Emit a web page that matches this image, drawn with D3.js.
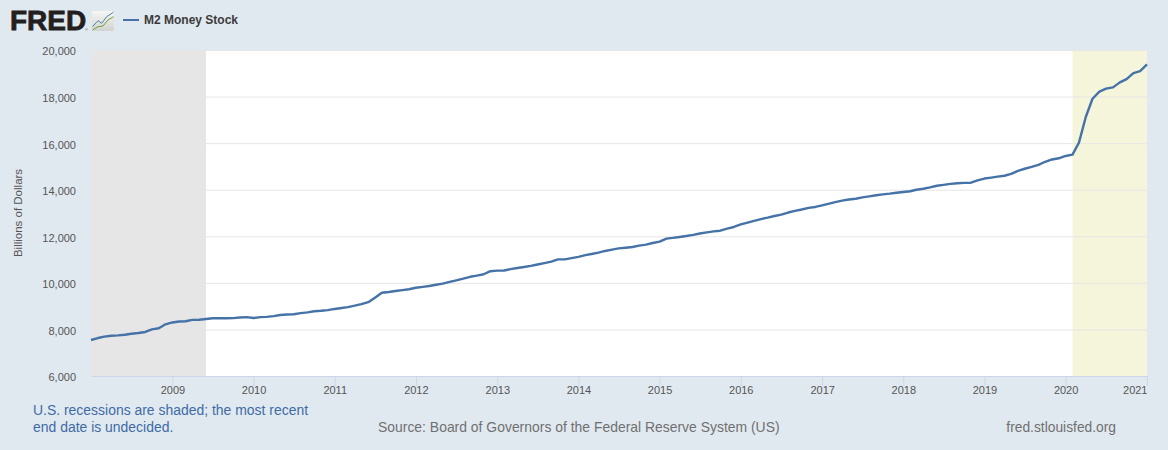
<!DOCTYPE html>
<html>
<head>
<meta charset="utf-8">
<title>M2 Money Stock</title>
<script src="https://cdn.jsdelivr.net/npm/d3@7"></script>
<style>
    body { margin: 0; background: #e1e9f0; overflow: hidden; }
    text { font-family: "Liberation Sans", Arial, sans-serif; }
</style>
</head>
<body>
<div id="chart"></div>
<script>
// 1. DATA - monthly M2, billions of dollars
const startYear = 2008;
const m2Values = [
    7546, 7630, 7690, 7730, 7745, 7773, 7816, 7846, 7890, 8000, 8050, 8220,
    8300, 8340, 8350, 8410, 8415, 8450, 8480, 8480, 8480, 8485, 8510, 8530,
    8490, 8530, 8540, 8570, 8620, 8640, 8650, 8700, 8730, 8780, 8800, 8830,
    8880, 8920, 8960, 9020, 9090, 9170, 9360, 9577, 9610, 9650, 9690, 9725,
    9790, 9830, 9865, 9920, 9965, 10040, 10110, 10180, 10260, 10310, 10370, 10500,
    10525, 10530, 10590, 10640, 10680, 10730, 10790, 10850, 10910, 11010, 11010, 11060,
    11115, 11190, 11240, 11300, 11370, 11430, 11480, 11510, 11540, 11600, 11640, 11710,
    11770, 11900, 11930, 11970, 12010, 12060, 12120, 12170, 12210, 12240, 12330, 12400,
    12510, 12590, 12660, 12740, 12800, 12870, 12930, 13020, 13090, 13150, 13220, 13260,
    13330, 13400, 13470, 13530, 13580, 13610, 13670, 13715, 13760, 13800, 13830, 13870,
    13900, 13935, 14000, 14040, 14100, 14170, 14210, 14250, 14280, 14295, 14300, 14400,
    14480, 14520, 14560, 14600, 14680, 14810, 14900, 14980, 15070, 15200, 15300, 15350,
    15450, 15505, 16020, 17135, 17905, 18210, 18340, 18395, 18610, 18750, 19010, 19095,
    19385
];
const yTicks = [6000, 8000, 10000, 12000, 14000, 16000, 18000, 20000];
const xTickYears = [2009, 2010, 2011, 2012, 2013, 2014, 2015, 2016, 2017, 2018, 2019, 2020, 2021];
const recessions = [
    { start: new Date(2008, 0, 1), end: new Date(2009, 5, 1), fill: "#e6e6e6" },
    { start: new Date(2020, 1, 1), end: new Date(2021, 0, 1), fill: "#f5f5dc" }
];

const data = m2Values.map(function(v, i) {
    return { date: new Date(startYear, i, 1), value: v };
});

// 2. SETUP
const width = 1168;
const height = 450;
const plot = { left: 91, right: 1147, top: 50, bottom: 376 };

const svg = d3.select("#chart")
    .append("svg")
    .attr("width", width)
    .attr("height", height)
    .style("display", "block");

const x = d3.scaleTime()
    .domain([data[0].date, data[data.length - 1].date])
    .range([plot.left, plot.right]);

const y = d3.scaleLinear()
    .domain([6000, 20000])
    .range([plot.bottom, plot.top]);

// 3. PLOT BACKGROUND AND RECESSION BANDS
svg.append("rect")
    .attr("x", plot.left)
    .attr("y", plot.top)
    .attr("width", plot.right - plot.left)
    .attr("height", plot.bottom - plot.top)
    .attr("fill", "#ffffff");

svg.selectAll(".recession")
    .data(recessions)
    .join("rect")
    .attr("class", "recession")
    .attr("x", function(d) { return x(d.start); })
    .attr("y", plot.top)
    .attr("width", function(d) { return x(d.end) - x(d.start); })
    .attr("height", plot.bottom - plot.top)
    .attr("fill", function(d) { return d.fill; });

// 4. AXES
const yAxis = svg.append("g")
    .attr("transform", "translate(" + plot.left + ",0)")
    .call(d3.axisLeft(y).tickValues(yTicks).tickFormat(d3.format(",")).tickSize(-(plot.right - plot.left)).tickPadding(15));
yAxis.select(".domain").remove();
yAxis.selectAll("line")
    .attr("stroke", "#e6e6e6")
    .filter(function(d) { return d === 6000; }).remove();
yAxis.selectAll("text")
    .attr("fill", "#555")
    .style("font-size", "11px")
    .attr("dy", "0.45em")
    .style("font-family", "Liberation Sans");

const xAxis = svg.append("g")
    .attr("transform", "translate(0," + plot.bottom + ")")
    .call(d3.axisBottom(x)
        .tickValues(xTickYears.map(function(yr) { return new Date(yr, 0, 1); }))
        .tickFormat(d3.timeFormat("%Y"))
        .tickSize(10)
        .tickPadding(0)
        .tickSizeOuter(0));
xAxis.select(".domain").attr("stroke", "#ccd6eb");
xAxis.selectAll("line").attr("stroke", "#ccd6eb");
xAxis.selectAll("text")
    .attr("fill", "#555")
    .style("font-size", "11px")
    .style("font-family", "Liberation Sans");
// last label gets pushed inside the chart edge like in FRED
xAxis.selectAll(".tick text")
    .filter(function(d) { return d.getFullYear() === 2021; })
    .attr("text-anchor", "end");

svg.append("text")
    .attr("transform", "translate(22,213) rotate(-90)")
    .attr("text-anchor", "middle")
    .attr("fill", "#555")
    .style("font-size", "11.5px")
    .text("Billions of Dollars");

// 5. THE LINE
const line = d3.line()
    .x(function(d) { return x(d.date); })
    .y(function(d) { return y(d.value); });

svg.append("path")
    .datum(data)
    .attr("d", line)
    .attr("fill", "none")
    .attr("stroke", "#4572a7")
    .attr("stroke-width", 2.4)
    .attr("stroke-linejoin", "round");

// 6. HEADER - logo and legend
svg.append("text")
    .attr("x", 10)
    .attr("y", 30)
    .attr("fill", "#231f20")
    .attr("stroke", "#231f20")
    .attr("stroke-width", 0.8)
    .style("font-size", "28px")
    .style("font-weight", "bold")
    .text("FRED");
svg.append("text")
    .attr("x", 85)
    .attr("y", 31)
    .attr("fill", "#555")
    .style("font-size", "4px")
    .text("®");

const gradient = svg.append("defs").append("linearGradient")
    .attr("id", "icon-bg")
    .attr("x1", "0%").attr("y1", "0%")
    .attr("x2", "0%").attr("y2", "100%");
gradient.append("stop").attr("offset", "0%").attr("stop-color", "#f6f6f4");
gradient.append("stop").attr("offset", "100%").attr("stop-color", "#d2d3cf");

svg.append("rect")
    .attr("x", 92)
    .attr("y", 11)
    .attr("width", 22)
    .attr("height", 20)
    .attr("rx", 2)
    .attr("fill", "url(#icon-bg)");
svg.append("path")
    .attr("d", "M92.5,26.7 L98,20.7 L101.7,23.3 L106.7,16.7 L113.5,12.2")
    .attr("fill", "none")
    .attr("stroke", "#4f86ad")
    .attr("stroke-width", 1);
svg.append("path")
    .attr("d", "M92.5,30 L98,26.7 L103,26 L108,20 L113.5,16.7")
    .attr("fill", "none")
    .attr("stroke", "#6f9e3f")
    .attr("stroke-width", 1);

svg.append("line")
    .attr("x1", 123)
    .attr("x2", 139)
    .attr("y1", 20)
    .attr("y2", 20)
    .attr("stroke", "#4572a7")
    .attr("stroke-width", 2);
svg.append("text")
    .attr("x", 144)
    .attr("y", 24)
    .attr("fill", "#3b3b3b")
    .style("font-size", "12px")
    .style("font-weight", "bold")
    .text("M2 Money Stock");

// 7. FOOTER
svg.append("text")
    .attr("x", 33)
    .attr("y", 415)
    .attr("fill", "#3e6ba5")
    .style("font-size", "13.95px")
    .text("U.S. recessions are shaded; the most recent");
svg.append("text")
    .attr("x", 33)
    .attr("y", 432)
    .attr("fill", "#3e6ba5")
    .style("font-size", "13.95px")
    .text("end date is undecided.");
svg.append("text")
    .attr("x", 378)
    .attr("y", 432)
    .attr("fill", "#707070")
    .style("font-size", "13.93px")
    .text("Source: Board of Governors of the Federal Reserve System (US)");
svg.append("text")
    .attr("x", 1116)
    .attr("y", 432)
    .attr("text-anchor", "end")
    .attr("fill", "#707070")
    .style("font-size", "13.8px")
    .text("fred.stlouisfed.org");
</script>
</body>
</html>
